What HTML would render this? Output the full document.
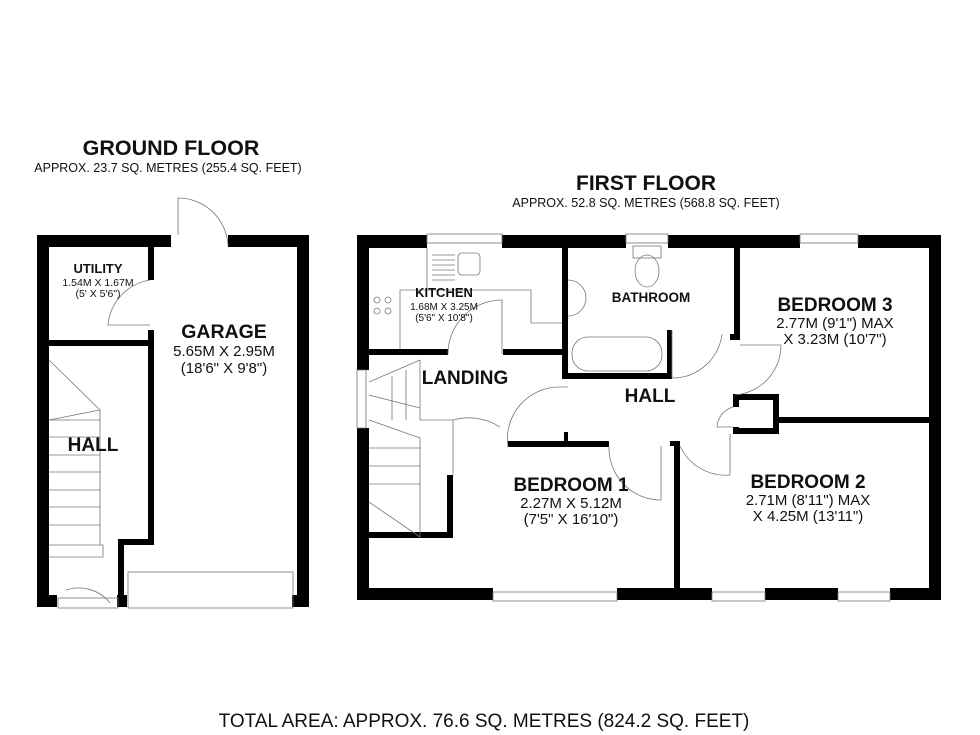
<!DOCTYPE html>
<html><head><meta charset="utf-8"><style>
html,body{margin:0;padding:0;background:#fff}
svg{display:block}
text{font-family:"Liberation Sans",sans-serif;fill:#111}
.b{font-weight:bold}
</style></head><body>
<svg width="980" height="735" viewBox="0 0 980 735" xmlns="http://www.w3.org/2000/svg">
<!-- titles -->
<text x="171" y="155" text-anchor="middle" class="b" font-size="21.5">GROUND FLOOR</text>
<text x="168" y="172" text-anchor="middle" font-size="12.5">APPROX. 23.7 SQ. METRES (255.4 SQ. FEET)</text>
<text x="646" y="190" text-anchor="middle" class="b" font-size="21">FIRST FLOOR</text>
<text x="646" y="207" text-anchor="middle" font-size="12.5">APPROX. 52.8 SQ. METRES (568.8 SQ. FEET)</text>
<text x="484" y="727" text-anchor="middle" font-size="19">TOTAL AREA: APPROX. 76.6 SQ. METRES (824.2 SQ. FEET)</text>

<g fill="#000">
<!-- GROUND FLOOR walls -->
<rect x="37" y="235" width="134" height="12"/>
<rect x="228" y="235" width="81" height="12"/>
<rect x="37" y="235" width="12" height="372"/>
<rect x="297" y="235" width="12" height="372"/>
<rect x="37" y="595" width="20" height="12"/>
<rect x="117" y="595" width="10" height="12"/>
<rect x="292" y="595" width="17" height="12"/>
<rect x="148" y="247" width="6" height="33"/>
<rect x="148" y="330" width="6" height="215"/>
<rect x="49" y="340" width="105" height="6"/>
<rect x="118" y="539" width="36" height="6"/>
<rect x="118" y="539" width="6" height="60"/>

<!-- FIRST FLOOR outer walls -->
<rect x="357" y="235" width="70" height="13"/>
<rect x="502" y="235" width="124" height="13"/>
<rect x="668" y="235" width="132" height="13"/>
<rect x="858" y="235" width="83" height="13"/>
<rect x="929" y="235" width="12" height="365"/>
<rect x="357" y="235" width="12" height="135"/>
<rect x="357" y="428" width="12" height="172"/>
<rect x="357" y="588" width="136" height="12"/>
<rect x="617" y="588" width="95" height="12"/>
<rect x="765" y="588" width="73" height="12"/>
<rect x="890" y="588" width="51" height="12"/>
<!-- internal -->
<rect x="369" y="349" width="79" height="6"/>
<rect x="503" y="349" width="65" height="6"/>
<rect x="562" y="248" width="6" height="130"/>
<rect x="562" y="373" width="110" height="6"/>
<rect x="667" y="330" width="5" height="49"/>
<rect x="734" y="248" width="6" height="92"/>
<rect x="730" y="334" width="10" height="6"/>
<rect x="776" y="417" width="165" height="6"/>
<rect x="733" y="394" width="45" height="6"/>
<rect x="773" y="394" width="6" height="40"/>
<rect x="733" y="394" width="6" height="13"/>
<rect x="733" y="427" width="6" height="7"/>
<rect x="733" y="428" width="45" height="6"/>
<rect x="508" y="441" width="101" height="6"/>
<rect x="564" y="432" width="4" height="10"/>
<rect x="674" y="441" width="6" height="159"/>
<rect x="670" y="441" width="10" height="5"/>
<rect x="447" y="475" width="6" height="62"/>
<rect x="369" y="532" width="84" height="6"/>
</g>

<g fill="none" stroke="#777" stroke-width="0.8">
<!-- ground floor details -->
<rect x="128" y="572" width="165" height="36"/>
<path d="M178 235 V198 A50 50 0 0 1 228 245"/>
<path d="M150 280 A50 50 0 0 0 108 325 H150"/>
<path d="M66 590 A40 40 0 0 1 110 603"/>
<rect x="58" y="598" width="60" height="10"/>
<path d="M49 360 L100 410 M49 420 L100 410 V545 M49 420 H100 M49 437 H100 M49 455 H100 M49 472 H100 M49 490 H100 M49 507 H100 M49 525 H100 M49 545 H103 V557 H49"/>
<!-- first floor windows -->
<rect x="427" y="234" width="75" height="9"/>
<rect x="626" y="234" width="42" height="9"/>
<rect x="800" y="234" width="58" height="9"/>
<rect x="493" y="592" width="124" height="9"/>
<rect x="712" y="592" width="53" height="9"/>
<rect x="838" y="592" width="52" height="9"/>
<rect x="357" y="370" width="9" height="58"/>
<!-- kitchen -->
<path d="M427 248 V290 M427 290 H400 V349 M400 290 H531 V323 H562"/>
<path d="M432 255 H455 M432 260 H455 M432 265 H455 M432 270 H455 M432 275 H455 M432 280 H455"/>
<rect x="458" y="253" width="22" height="22" rx="4"/>
<circle cx="377" cy="300" r="3"/><circle cx="388" cy="300" r="3"/><circle cx="377" cy="311" r="3"/><circle cx="388" cy="311" r="3"/>
<path d="M448 354 A54 54 0 0 1 502 300 V354"/>
<!-- bathroom -->
<rect x="633" y="246" width="28" height="12"/>
<ellipse cx="647" cy="271" rx="12" ry="16"/>
<path d="M568 280 A18 18 0 0 1 568 316"/>
<rect x="572" y="337" width="90" height="34" rx="16"/>
<path d="M672 330 V378 A50 50 0 0 0 722 334"/>
<path d="M740 345 H781 A50 50 0 0 1 735 395"/>
<!-- hall/cupboard door -->
<path d="M733 407 A22 22 0 0 0 717 427 H733"/>
<!-- stairs -->
<path d="M369 382 L420 360 M369 395 L420 408 V420 H453 M420 360 V408 M392 376 V420 M406 370 V420 M369 420 L420 438 V537 M369 448 H420 M369 466 H420 M369 484 H420 M369 502 L420 537"/>
<!-- landing doors -->
<path d="M453 475 V420 A58 58 0 0 1 500 427"/>
<path d="M508 447 V447 A52 52 0 0 1 560 387 H568"/>
<path d="M609 446 A52 52 0 0 0 661 500 V446"/>
<path d="M680 446 A50 50 0 0 0 730 475 V434"/>
</g>

<!-- labels -->
<text x="98" y="273" text-anchor="middle" class="b" font-size="13">UTILITY</text>
<text x="98" y="286" text-anchor="middle" font-size="10.5">1.54M X 1.67M</text>
<text x="98" y="297" text-anchor="middle" font-size="10.5">(5' X 5'6")</text>
<text x="224" y="338" text-anchor="middle" class="b" font-size="19.5">GARAGE</text>
<text x="224" y="356" text-anchor="middle" font-size="15">5.65M X 2.95M</text>
<text x="224" y="373" text-anchor="middle" font-size="15">(18'6" X 9'8")</text>
<text x="93" y="451" text-anchor="middle" class="b" font-size="19">HALL</text>

<text x="444" y="297" text-anchor="middle" class="b" font-size="13">KITCHEN</text>
<text x="444" y="310" text-anchor="middle" font-size="10">1.68M X 3.25M</text>
<text x="444" y="321" text-anchor="middle" font-size="10">(5'6" X 10'8")</text>
<text x="651" y="302" text-anchor="middle" class="b" font-size="13.5">BATHROOM</text>
<text x="835" y="311" text-anchor="middle" class="b" font-size="19">BEDROOM 3</text>
<text x="835" y="328" text-anchor="middle" font-size="15">2.77M (9'1") MAX</text>
<text x="835" y="344" text-anchor="middle" font-size="15">X 3.23M (10'7")</text>
<text x="465" y="384" text-anchor="middle" class="b" font-size="19">LANDING</text>
<text x="650" y="402" text-anchor="middle" class="b" font-size="19">HALL</text>
<text x="571" y="491" text-anchor="middle" class="b" font-size="19">BEDROOM 1</text>
<text x="571" y="508" text-anchor="middle" font-size="15">2.27M X 5.12M</text>
<text x="571" y="524" text-anchor="middle" font-size="15">(7'5" X 16'10")</text>
<text x="808" y="488" text-anchor="middle" class="b" font-size="19">BEDROOM 2</text>
<text x="808" y="505" text-anchor="middle" font-size="15">2.71M (8'11") MAX</text>
<text x="808" y="521" text-anchor="middle" font-size="15">X 4.25M (13'11")</text>
</svg>
</body></html>
